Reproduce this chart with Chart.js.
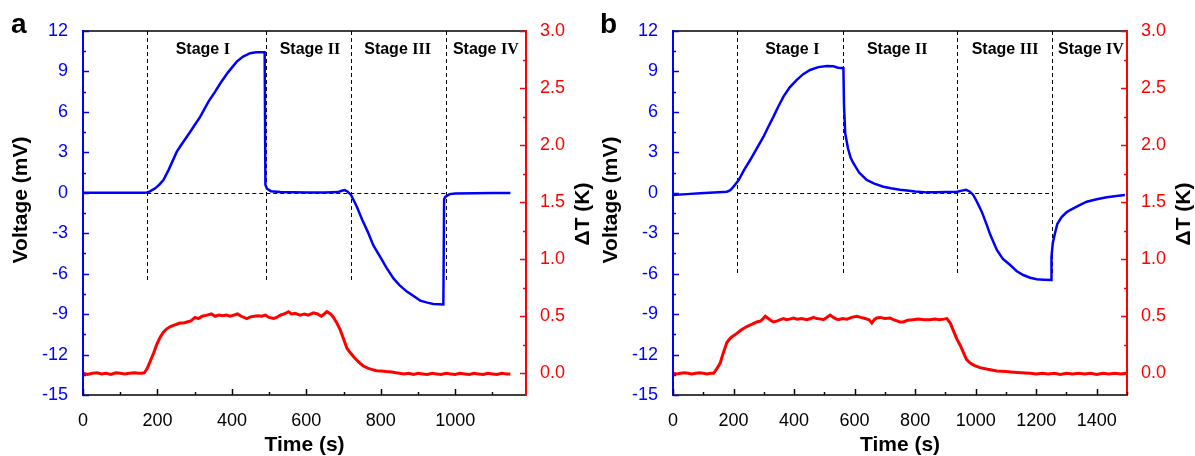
<!DOCTYPE html>
<html>
<head>
<meta charset="utf-8">
<script src="https://cdn.jsdelivr.net/npm/chart.js@4.4.1/dist/chart.umd.min.js"></script>
<style>
  html, body { margin: 0; padding: 0; background: #fff; }
  #wrap { position: relative; width: 1195px; height: 456px; overflow: hidden; }
  canvas { position: absolute; top: 0; }
  #chart-a { left: 0; }
  #chart-b { left: 590px; }
</style>
</head>
<body>
<div id="wrap">
  <canvas id="chart-a" width="600" height="456"></canvas>
  <canvas id="chart-b" width="605" height="456"></canvas>
</div>
<script>
// Panel a: [time (s), value]
const aVoltage = [
  [0, 0], [100, 0], [165, 0], [172, 0.02], [180, 0.1], [194, 0.33], [205, 0.6], [216, 0.95],
  [230, 1.7], [252, 3.05], [265, 3.6], [279, 4.16], [297, 4.9], [315, 5.65], [337, 6.76],
  [355, 7.5], [369, 8.12], [390, 8.95], [413, 9.73], [430, 10.1], [449, 10.35], [465, 10.42],
  [488, 10.42], [490, 0.6], [494, 0.3], [505, 0.12], [530, 0.05], [600, 0.02], [650, 0.02],
  [685, 0.05], [695, 0.15], [703, 0.2], [710, 0.1], [720, -0.16], [735, -1.0], [750, -2.0],
  [765, -2.9], [780, -3.9], [798, -4.74], [815, -5.55], [834, -6.35], [850, -6.85], [870, -7.33],
  [890, -7.7], [906, -8.0], [925, -8.15], [941, -8.25], [968, -8.28], [970, -0.5], [973, -0.3],
  [985, -0.1], [1000, -0.05], [1050, -0.03], [1100, -0.02], [1148, -0.02]
];
const aTemperature = [
  [0, 0], [12, -0.01], [25, 0], [38, 0.005], [50, -0.005], [62, 0], [75, -0.01], [88, 0.005],
  [100, 0], [112, -0.005], [125, 0], [138, 0.005], [150, 0], [158, 0], [165, 0.005], [172, 0.04],
  [180, 0.1], [190, 0.18], [199, 0.26], [208, 0.32], [216, 0.36], [225, 0.39], [235, 0.41],
  [243, 0.42], [252, 0.43], [260, 0.44], [270, 0.44], [279, 0.45], [290, 0.46], [301, 0.49],
  [310, 0.48], [320, 0.5], [333, 0.51], [345, 0.52], [355, 0.5], [365, 0.51], [375, 0.505],
  [385, 0.51], [395, 0.5], [405, 0.51], [415, 0.52], [425, 0.5], [440, 0.48], [450, 0.495],
  [460, 0.5], [470, 0.505], [480, 0.5], [490, 0.51], [500, 0.49], [512, 0.48], [520, 0.49],
  [530, 0.51], [540, 0.52], [552, 0.54], [560, 0.52], [570, 0.525], [583, 0.51], [595, 0.52],
  [605, 0.51], [619, 0.53], [630, 0.52], [640, 0.5], [648, 0.52], [655, 0.54], [665, 0.52],
  [673, 0.49], [682, 0.44], [691, 0.38], [700, 0.3], [709, 0.22], [718, 0.18], [727, 0.145],
  [740, 0.1], [753, 0.064], [765, 0.045], [775, 0.035], [788, 0.023], [800, 0.02], [815, 0.015],
  [830, 0.012], [841, 0.005], [850, 0], [862, -0.005], [875, 0], [888, -0.01], [900, 0],
  [912, -0.005], [925, -0.01], [938, 0], [950, -0.005], [962, -0.01], [975, 0], [988, -0.005],
  [1000, -0.01], [1012, 0], [1025, -0.005], [1038, -0.01], [1050, 0], [1062, -0.005],
  [1075, -0.01], [1088, 0], [1100, -0.005], [1112, -0.01], [1125, 0], [1138, -0.005], [1148, -0.005]
];

// Panel b: [time (s), value]
const bVoltage = [
  [0, -0.16], [45, -0.1], [90, -0.04], [135, 0.02], [178, 0.08], [188, 0.18], [195, 0.33],
  [205, 0.6], [217, 0.95], [235, 1.7], [255, 2.43], [277, 3.3], [299, 4.16], [315, 4.9],
  [332, 5.65], [348, 6.4], [365, 7.13], [385, 7.8], [409, 8.37], [430, 8.8], [453, 9.11],
  [480, 9.32], [508, 9.41], [530, 9.38], [545, 9.28], [563, 9.24], [565, 6.5], [569, 4.41],
  [578, 3.3], [587, 2.6], [596, 2.19], [615, 1.5], [640, 0.95], [665, 0.68], [695, 0.45],
  [720, 0.33], [750, 0.22], [773, 0.17], [800, 0.1], [839, 0.03], [870, 0.03], [900, 0.05],
  [938, 0.08], [955, 0.16], [968, 0.22], [980, 0.1], [992, -0.16], [1005, -0.7], [1020, -1.4],
  [1037, -2.4], [1048, -3.1], [1070, -4.24], [1090, -4.9], [1114, -5.36], [1135, -5.8],
  [1157, -6.1], [1180, -6.3], [1202, -6.42], [1225, -6.45], [1249, -6.47], [1250, -5.6],
  [1251, -4.74], [1255, -3.7], [1262, -3.0], [1270, -2.3], [1284, -1.8], [1300, -1.45],
  [1312, -1.28], [1340, -0.95], [1367, -0.66], [1400, -0.48], [1433, -0.33], [1465, -0.24],
  [1493, -0.16]
];
const bTemperature = [
  [0, 0], [12, -0.005], [25, 0], [38, 0.005], [50, 0], [62, -0.005], [75, 0], [88, 0.005],
  [100, 0], [112, -0.005], [125, 0], [134, 0], [145, 0.04], [156, 0.09], [165, 0.17],
  [178, 0.27], [190, 0.31], [200, 0.33], [211, 0.35], [225, 0.38], [244, 0.41], [260, 0.43],
  [277, 0.45], [290, 0.46], [298, 0.48], [305, 0.5], [315, 0.48], [325, 0.46], [332, 0.45],
  [345, 0.46], [355, 0.47], [365, 0.48], [375, 0.47], [385, 0.475], [398, 0.485], [410, 0.475],
  [425, 0.48], [442, 0.47], [455, 0.48], [464, 0.49], [475, 0.48], [490, 0.475], [497, 0.47],
  [508, 0.49], [519, 0.51], [530, 0.49], [540, 0.475], [547, 0.47], [560, 0.48], [575, 0.475],
  [590, 0.49], [607, 0.5], [620, 0.49], [635, 0.48], [648, 0.47], [657, 0.44], [665, 0.47],
  [673, 0.485], [684, 0.49], [700, 0.48], [717, 0.485], [728, 0.47], [740, 0.46], [750, 0.45],
  [761, 0.45], [775, 0.465], [794, 0.47], [810, 0.475], [830, 0.47], [849, 0.47], [865, 0.475],
  [880, 0.47], [895, 0.475], [905, 0.48], [916, 0.44], [927, 0.37], [938, 0.3], [950, 0.24],
  [960, 0.18], [970, 0.12], [982, 0.09], [995, 0.07], [1014, 0.05], [1040, 0.035], [1070, 0.02],
  [1100, 0.015], [1125, 0.01], [1150, 0.005], [1180, 0], [1200, -0.005], [1220, 0],
  [1240, -0.005], [1260, 0], [1280, -0.01], [1300, 0], [1320, -0.005], [1340, 0], [1360, -0.005],
  [1380, 0], [1400, -0.01], [1420, 0], [1440, -0.005], [1460, 0], [1480, -0.005], [1499, 0]
];

// Stage boundaries and label centres (s)
const aStageBounds = [172.7, 491, 720, 975];
const bStageBounds = [212, 563, 939, 1251];
const aStageLabelAt = [321.7, 609.6, 845, 1082];
const bStageLabelAt = [394, 740.5, 1097, 1381];
const stageNames = ["I", "II", "III", "IV"];

const voltageTicks = [-15, -12, -9, -6, -3, 0, 3, 6, 9, 12];
const tempTicks = [0, 0.5, 1.0, 1.5, 2.0, 2.5, 3.0];
const aTimeTicks = [0, 200, 400, 600, 800, 1000];
const bTimeTicks = [0, 200, 400, 600, 800, 1000, 1200, 1400];

const SANS = '"Liberation Sans", Arial, sans-serif';
const SERIF = '"Liberation Serif", "Times New Roman", serif';
const BLUE = "#0000ff";
const RED = "#ff0000";

const toPoints = (pairs) => pairs.map(([x, y]) => ({ x, y }));

// inward minor/major ticks along one side of the plot
const drawTicks = (ctx, scale, minor, ratio, color, side, area) => {
  ctx.strokeStyle = color;
  ctx.lineWidth = 1.5;
  const first = Math.ceil(scale.min / minor - 1e-9);
  for (let i = first; i * minor <= scale.max + 1e-9; i++) {
    const major = ((i % ratio) + ratio) % ratio === 0;
    const len = major ? 6 : 3;
    const p = Math.round(scale.getPixelForValue(i * minor)) + 0.5;
    ctx.beginPath();
    if (side === "left") { ctx.moveTo(area.left, p); ctx.lineTo(area.left + len, p); }
    if (side === "right") { ctx.moveTo(area.right, p); ctx.lineTo(area.right - len, p); }
    if (side === "bottom") { ctx.moveTo(p, area.bottom); ctx.lineTo(p, area.bottom - len); }
    ctx.stroke();
  }
};

const decor = {
  id: "decor",
  beforeDatasetsDraw(chart, args, opts) {
    const { ctx, chartArea } = chart;
    const x = chart.scales.x;
    const y = chart.scales.y;
    ctx.save();
    ctx.strokeStyle = "#000";
    ctx.lineWidth = 1;
    ctx.setLineDash([4, 3]);
    const bottom = y.getPixelForValue(opts.lineBottom);
    opts.bounds.forEach((t) => {
      const px = Math.round(x.getPixelForValue(t)) + 0.5;
      ctx.beginPath();
      ctx.moveTo(px, chartArea.top);
      ctx.lineTo(px, bottom);
      ctx.stroke();
    });
    const y0 = Math.round(y.getPixelForValue(0)) + 0.5;
    ctx.beginPath();
    ctx.moveTo(x.getPixelForValue(opts.bounds[0]), y0);
    ctx.lineTo(x.getPixelForValue(opts.bounds[opts.bounds.length - 1]), y0);
    ctx.stroke();
    ctx.restore();
  },
  afterDraw(chart, args, opts) {
    const { ctx, chartArea: area } = chart;
    const { x, y, y1 } = chart.scales;
    ctx.save();

    // frame
    ctx.lineWidth = 1.5;
    ctx.strokeStyle = "#000";
    ctx.beginPath();
    ctx.moveTo(area.left, area.top); ctx.lineTo(area.right, area.top);
    ctx.moveTo(area.left, area.bottom); ctx.lineTo(area.right, area.bottom);
    ctx.stroke();
    ctx.lineWidth = 2;
    ctx.strokeStyle = BLUE;
    ctx.beginPath(); ctx.moveTo(area.left, area.top - 1); ctx.lineTo(area.left, area.bottom + 1); ctx.stroke();
    ctx.strokeStyle = RED;
    ctx.beginPath(); ctx.moveTo(area.right, area.top - 1); ctx.lineTo(area.right, area.bottom + 1); ctx.stroke();

    drawTicks(ctx, y, 1.5, 2, BLUE, "left", area);
    drawTicks(ctx, y1, 0.25, 2, RED, "right", area);
    drawTicks(ctx, x, 100, 2, "#000", "bottom", area);

    // stage labels: sans "Stage" + serif numeral
    ctx.fillStyle = "#000";
    ctx.textBaseline = "alphabetic";
    ctx.textAlign = "left";
    opts.labelAt.forEach((t, i) => {
      ctx.font = "bold 16px " + SANS;
      const w1 = ctx.measureText("Stage ").width;
      ctx.font = "bold 16px " + SERIF;
      const w2 = ctx.measureText(stageNames[i]).width;
      const start = x.getPixelForValue(t) - (w1 + w2) / 2;
      ctx.font = "bold 16px " + SANS;
      ctx.fillText("Stage ", start, 53.5);
      ctx.font = "bold 16px " + SERIF;
      ctx.fillText(stageNames[i], start + w1, 53.5);
    });

    // panel letter
    ctx.font = "bold 28px " + SANS;
    ctx.fillText(opts.letter, opts.letterX, 33);

    // axis titles (both read bottom to top)
    ctx.font = "bold 21px " + SANS;
    ctx.textAlign = "center";
    ctx.save();
    ctx.translate(27, 200);
    ctx.rotate(-Math.PI / 2);
    ctx.fillText("Voltage (mV)", 0, 0);
    ctx.restore();
    ctx.save();
    ctx.translate(area.right + 63, 214);
    ctx.rotate(-Math.PI / 2);
    ctx.fillText("\u0394T (K)", 0, 0);
    ctx.restore();

    ctx.restore();
  },
};

const makeChart = (id, panel) => {
  const ctx = document.getElementById(id);
  return new Chart(ctx, {
    type: "line",
    data: {
      datasets: [
        {
          data: toPoints(panel.temperature),
          yAxisID: "y1",
          borderColor: RED,
          borderWidth: 3,
          pointRadius: 0,
          tension: 0,
        },
        {
          data: toPoints(panel.voltage),
          yAxisID: "y",
          borderColor: BLUE,
          borderWidth: 2.5,
          pointRadius: 0,
          tension: 0,
        },
      ],
    },
    plugins: [decor],
    options: {
      responsive: false,
      animation: false,
      layout: { padding: { top: 31, left: 0, right: 0, bottom: 0 } },
      plugins: {
        legend: { display: false },
        tooltip: { enabled: false },
        decor: {
          bounds: panel.bounds,
          labelAt: panel.labelAt,
          lineBottom: panel.lineBottom,
          letter: panel.letter,
          letterX: panel.letterX,
        },
      },
      scales: {
        x: {
          type: "linear",
          min: 0,
          max: panel.xMax,
          afterFit: (s) => { s.height = 61; },
          afterBuildTicks: (s) => { s.ticks = panel.xTicks.map((v) => ({ value: v })); },
          grid: { display: false },
          border: { display: false },
          ticks: {
            color: "#000",
            padding: 7,
            maxRotation: 0,
            font: { family: SANS, size: 18 },
            callback: (v) => String(v),
          },
          title: {
            display: true,
            text: "Time (s)",
            color: "#000",
            font: { family: SANS, size: 21, weight: "bold", lineHeight: 1 },
            padding: { top: 0, bottom: 0.5 },
          },
        },
        y: {
          position: "left",
          min: -15,
          max: 12,
          afterFit: (s) => { s.width = 83; },
          afterBuildTicks: (s) => { s.ticks = voltageTicks.map((v) => ({ value: v })); },
          grid: { display: false },
          border: { display: false },
          ticks: {
            color: BLUE,
            padding: 7,
            font: { family: SANS, size: 18 },
            callback: (v) => String(v),
          },
        },
        y1: {
          position: "right",
          min: -0.19,
          max: 3.0,
          afterFit: (s) => { s.width = panel.rightWidth; },
          afterBuildTicks: (s) => { s.ticks = tempTicks.map((v) => ({ value: v })); },
          grid: { display: false },
          border: { display: false },
          ticks: {
            color: RED,
            padding: 6,
            font: { family: SANS, size: 18 },
            callback: (v) => v.toFixed(1),
          },
        },
      },
    },
  });
};

makeChart("chart-a", {
  voltage: aVoltage,
  temperature: aTemperature,
  bounds: aStageBounds,
  labelAt: aStageLabelAt,
  lineBottom: -6.64,
  xMax: 1190,
  xTicks: aTimeTicks,
  rightWidth: 74,
  letter: "a",
  letterX: 11,
});

makeChart("chart-b", {
  voltage: bVoltage,
  temperature: bTemperature,
  bounds: bStageBounds,
  labelAt: bStageLabelAt,
  lineBottom: -6.0,
  xMax: 1500,
  xTicks: bTimeTicks,
  rightWidth: 68,
  letter: "b",
  letterX: 10,
});
</script>
</body>
</html>
